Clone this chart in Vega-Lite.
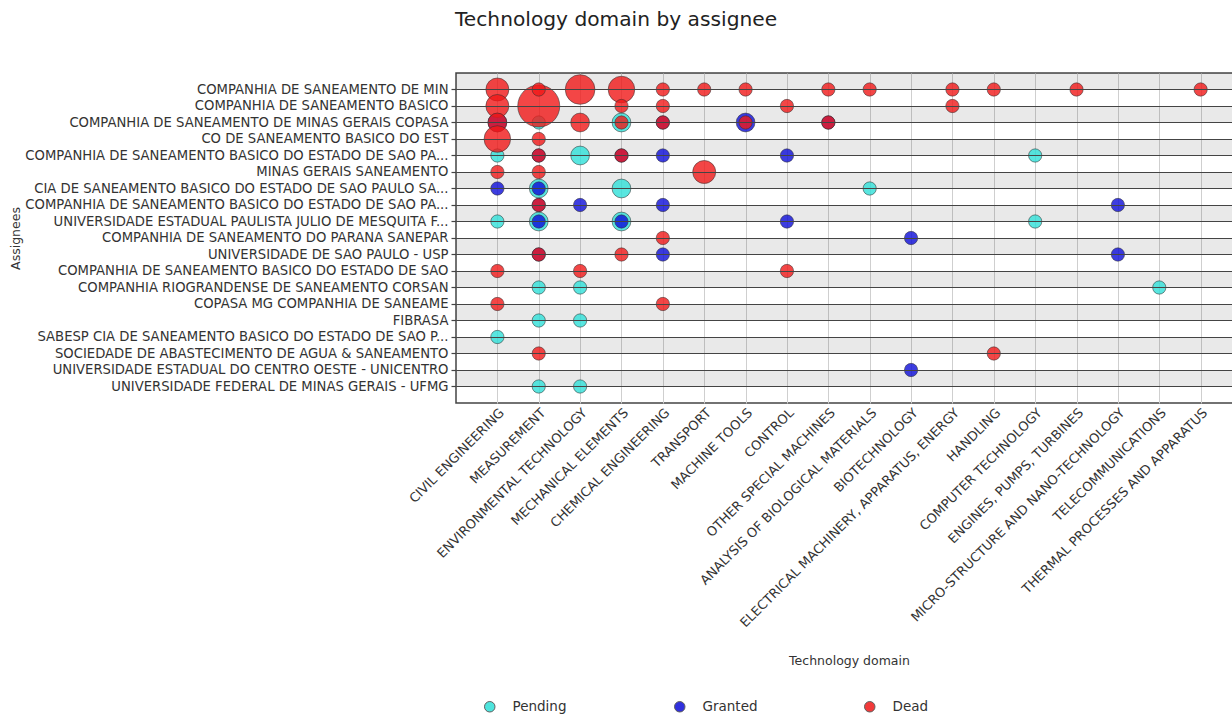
{
  "$schema": "https://vega.github.io/schema/vega-lite/v6.json",
  "autosize": {"type": "none"},
  "padding": {"left": 456, "top": 73, "right": 0, "bottom": 313},
  "width": 786,
  "height": 330,
  "background": "white",
  "config": {
    "font": "DejaVu Sans",
    "view": {"stroke": "#444", "strokeWidth": 1.5},
    "axis": {"labelFont": "DejaVu Sans", "titleFont": "DejaVu Sans", "titleFontWeight": "normal", "labelColor": "#333", "titleColor": "#333"}
  },
  "title": {
    "text": "Technology domain by assignee",
    "font": "DejaVu Sans",
    "fontSize": 20.2,
    "fontWeight": "normal",
    "color": "#222",
    "anchor": "middle",
    "frame": "group",
    "dx": -233,
    "baseline": "alphabetic",
    "offset": 26
  },
  "datasets": {
    "bands": [
      {"assignee": "COMPANHIA DE SANEAMENTO DE MIN"},
      {"assignee": "COMPANHIA DE SANEAMENTO DE MINAS GERAIS COPASA"},
      {"assignee": "COMPANHIA DE SANEAMENTO BASICO DO ESTADO DE SAO PA..."},
      {"assignee": "CIA DE SANEAMENTO BASICO DO ESTADO DE SAO PAULO SA..."},
      {"assignee": "UNIVERSIDADE ESTADUAL PAULISTA JULIO DE MESQUITA F..."},
      {"assignee": "UNIVERSIDADE DE SAO PAULO - USP"},
      {"assignee": "COMPANHIA RIOGRANDENSE DE SANEAMENTO CORSAN"},
      {"assignee": "FIBRASA"},
      {"assignee": "SOCIEDADE DE ABASTECIMENTO DE AGUA & SANEAMENTO"},
      {"assignee": "UNIVERSIDADE FEDERAL DE MINAS GERAIS - UFMG"}
    ],
    "points": [
      {"assignee": "COMPANHIA DE SANEAMENTO DE MINAS GERAIS COPASA", "domain": "MEASUREMENT", "status": "Pending", "count": 1},
      {"assignee": "COMPANHIA DE SANEAMENTO DE MINAS GERAIS COPASA", "domain": "MECHANICAL ELEMENTS", "status": "Pending", "count": 2},
      {"assignee": "COMPANHIA DE SANEAMENTO BASICO DO ESTADO DE SAO PA...", "domain": "CIVIL ENGINEERING", "status": "Pending", "count": 1},
      {"assignee": "COMPANHIA DE SANEAMENTO BASICO DO ESTADO DE SAO PA...", "domain": "ENVIRONMENTAL TECHNOLOGY", "status": "Pending", "count": 2},
      {"assignee": "COMPANHIA DE SANEAMENTO BASICO DO ESTADO DE SAO PA...", "domain": "COMPUTER TECHNOLOGY", "status": "Pending", "count": 1},
      {"assignee": "CIA DE SANEAMENTO BASICO DO ESTADO DE SAO PAULO SA...", "domain": "MEASUREMENT", "status": "Pending", "count": 2},
      {"assignee": "CIA DE SANEAMENTO BASICO DO ESTADO DE SAO PAULO SA...", "domain": "MECHANICAL ELEMENTS", "status": "Pending", "count": 2},
      {"assignee": "CIA DE SANEAMENTO BASICO DO ESTADO DE SAO PAULO SA...", "domain": "ANALYSIS OF BIOLOGICAL MATERIALS", "status": "Pending", "count": 1},
      {"assignee": "UNIVERSIDADE ESTADUAL PAULISTA JULIO DE MESQUITA F...", "domain": "CIVIL ENGINEERING", "status": "Pending", "count": 1},
      {"assignee": "UNIVERSIDADE ESTADUAL PAULISTA JULIO DE MESQUITA F...", "domain": "MEASUREMENT", "status": "Pending", "count": 2},
      {"assignee": "UNIVERSIDADE ESTADUAL PAULISTA JULIO DE MESQUITA F...", "domain": "MECHANICAL ELEMENTS", "status": "Pending", "count": 2},
      {"assignee": "UNIVERSIDADE ESTADUAL PAULISTA JULIO DE MESQUITA F...", "domain": "COMPUTER TECHNOLOGY", "status": "Pending", "count": 1},
      {"assignee": "COMPANHIA RIOGRANDENSE DE SANEAMENTO CORSAN", "domain": "MEASUREMENT", "status": "Pending", "count": 1},
      {"assignee": "COMPANHIA RIOGRANDENSE DE SANEAMENTO CORSAN", "domain": "ENVIRONMENTAL TECHNOLOGY", "status": "Pending", "count": 1},
      {"assignee": "COMPANHIA RIOGRANDENSE DE SANEAMENTO CORSAN", "domain": "TELECOMMUNICATIONS", "status": "Pending", "count": 1},
      {"assignee": "FIBRASA", "domain": "MEASUREMENT", "status": "Pending", "count": 1},
      {"assignee": "FIBRASA", "domain": "ENVIRONMENTAL TECHNOLOGY", "status": "Pending", "count": 1},
      {"assignee": "SABESP CIA DE SANEAMENTO BASICO DO ESTADO DE SAO P...", "domain": "CIVIL ENGINEERING", "status": "Pending", "count": 1},
      {"assignee": "UNIVERSIDADE FEDERAL DE MINAS GERAIS - UFMG", "domain": "MEASUREMENT", "status": "Pending", "count": 1},
      {"assignee": "UNIVERSIDADE FEDERAL DE MINAS GERAIS - UFMG", "domain": "ENVIRONMENTAL TECHNOLOGY", "status": "Pending", "count": 1},

      {"assignee": "COMPANHIA DE SANEAMENTO DE MINAS GERAIS COPASA", "domain": "CIVIL ENGINEERING", "status": "Granted", "count": 2},
      {"assignee": "COMPANHIA DE SANEAMENTO DE MINAS GERAIS COPASA", "domain": "CHEMICAL ENGINEERING", "status": "Granted", "count": 1},
      {"assignee": "COMPANHIA DE SANEAMENTO DE MINAS GERAIS COPASA", "domain": "MACHINE TOOLS", "status": "Granted", "count": 2},
      {"assignee": "COMPANHIA DE SANEAMENTO DE MINAS GERAIS COPASA", "domain": "OTHER SPECIAL MACHINES", "status": "Granted", "count": 1},
      {"assignee": "COMPANHIA DE SANEAMENTO BASICO DO ESTADO DE SAO PA...", "domain": "MEASUREMENT", "status": "Granted", "count": 1},
      {"assignee": "COMPANHIA DE SANEAMENTO BASICO DO ESTADO DE SAO PA...", "domain": "MECHANICAL ELEMENTS", "status": "Granted", "count": 1},
      {"assignee": "COMPANHIA DE SANEAMENTO BASICO DO ESTADO DE SAO PA...", "domain": "CHEMICAL ENGINEERING", "status": "Granted", "count": 1},
      {"assignee": "COMPANHIA DE SANEAMENTO BASICO DO ESTADO DE SAO PA...", "domain": "CONTROL", "status": "Granted", "count": 1},
      {"assignee": "CIA DE SANEAMENTO BASICO DO ESTADO DE SAO PAULO SA...", "domain": "CIVIL ENGINEERING", "status": "Granted", "count": 1},
      {"assignee": "CIA DE SANEAMENTO BASICO DO ESTADO DE SAO PAULO SA...", "domain": "MEASUREMENT", "status": "Granted", "count": 1},
      {"assignee": "COMPANHIA DE SANEAMENTO BASICO DO ESTADO DE SAO PA... ", "domain": "MEASUREMENT", "status": "Granted", "count": 1},
      {"assignee": "COMPANHIA DE SANEAMENTO BASICO DO ESTADO DE SAO PA... ", "domain": "ENVIRONMENTAL TECHNOLOGY", "status": "Granted", "count": 1},
      {"assignee": "COMPANHIA DE SANEAMENTO BASICO DO ESTADO DE SAO PA... ", "domain": "CHEMICAL ENGINEERING", "status": "Granted", "count": 1},
      {"assignee": "COMPANHIA DE SANEAMENTO BASICO DO ESTADO DE SAO PA... ", "domain": "MICRO-STRUCTURE AND NANO-TECHNOLOGY", "status": "Granted", "count": 1},
      {"assignee": "UNIVERSIDADE ESTADUAL PAULISTA JULIO DE MESQUITA F...", "domain": "MEASUREMENT", "status": "Granted", "count": 1},
      {"assignee": "UNIVERSIDADE ESTADUAL PAULISTA JULIO DE MESQUITA F...", "domain": "MECHANICAL ELEMENTS", "status": "Granted", "count": 1},
      {"assignee": "UNIVERSIDADE ESTADUAL PAULISTA JULIO DE MESQUITA F...", "domain": "CONTROL", "status": "Granted", "count": 1},
      {"assignee": "COMPANHIA DE SANEAMENTO DO PARANA SANEPAR", "domain": "BIOTECHNOLOGY", "status": "Granted", "count": 1},
      {"assignee": "UNIVERSIDADE DE SAO PAULO - USP", "domain": "MEASUREMENT", "status": "Granted", "count": 1},
      {"assignee": "UNIVERSIDADE DE SAO PAULO - USP", "domain": "CHEMICAL ENGINEERING", "status": "Granted", "count": 1},
      {"assignee": "UNIVERSIDADE DE SAO PAULO - USP", "domain": "MICRO-STRUCTURE AND NANO-TECHNOLOGY", "status": "Granted", "count": 1},
      {"assignee": "UNIVERSIDADE ESTADUAL DO CENTRO OESTE - UNICENTRO", "domain": "BIOTECHNOLOGY", "status": "Granted", "count": 1},

      {"assignee": "COMPANHIA DE SANEAMENTO DE MIN", "domain": "CIVIL ENGINEERING", "status": "Dead", "count": 3},
      {"assignee": "COMPANHIA DE SANEAMENTO DE MIN", "domain": "ENVIRONMENTAL TECHNOLOGY", "status": "Dead", "count": 5},
      {"assignee": "COMPANHIA DE SANEAMENTO DE MIN", "domain": "MECHANICAL ELEMENTS", "status": "Dead", "count": 4},
      {"assignee": "COMPANHIA DE SANEAMENTO DE MIN", "domain": "CHEMICAL ENGINEERING", "status": "Dead", "count": 1},
      {"assignee": "COMPANHIA DE SANEAMENTO DE MIN", "domain": "TRANSPORT", "status": "Dead", "count": 1},
      {"assignee": "COMPANHIA DE SANEAMENTO DE MIN", "domain": "MACHINE TOOLS", "status": "Dead", "count": 1},
      {"assignee": "COMPANHIA DE SANEAMENTO DE MIN", "domain": "OTHER SPECIAL MACHINES", "status": "Dead", "count": 1},
      {"assignee": "COMPANHIA DE SANEAMENTO DE MIN", "domain": "ANALYSIS OF BIOLOGICAL MATERIALS", "status": "Dead", "count": 1},
      {"assignee": "COMPANHIA DE SANEAMENTO DE MIN", "domain": "ELECTRICAL MACHINERY, APPARATUS, ENERGY", "status": "Dead", "count": 1},
      {"assignee": "COMPANHIA DE SANEAMENTO DE MIN", "domain": "HANDLING", "status": "Dead", "count": 1},
      {"assignee": "COMPANHIA DE SANEAMENTO DE MIN", "domain": "ENGINES, PUMPS, TURBINES", "status": "Dead", "count": 1},
      {"assignee": "COMPANHIA DE SANEAMENTO DE MIN", "domain": "THERMAL PROCESSES AND APPARATUS", "status": "Dead", "count": 1},
      {"assignee": "COMPANHIA DE SANEAMENTO BASICO", "domain": "CIVIL ENGINEERING", "status": "Dead", "count": 3},
      {"assignee": "COMPANHIA DE SANEAMENTO BASICO", "domain": "MEASUREMENT", "status": "Dead", "count": 10},
      {"assignee": "COMPANHIA DE SANEAMENTO BASICO", "domain": "MECHANICAL ELEMENTS", "status": "Dead", "count": 1},
      {"assignee": "COMPANHIA DE SANEAMENTO BASICO", "domain": "CHEMICAL ENGINEERING", "status": "Dead", "count": 1},
      {"assignee": "COMPANHIA DE SANEAMENTO BASICO", "domain": "CONTROL", "status": "Dead", "count": 1},
      {"assignee": "COMPANHIA DE SANEAMENTO BASICO", "domain": "ELECTRICAL MACHINERY, APPARATUS, ENERGY", "status": "Dead", "count": 1},
      {"assignee": "COMPANHIA DE SANEAMENTO DE MIN", "domain": "MEASUREMENT", "status": "Dead", "count": 1},
      {"assignee": "COMPANHIA DE SANEAMENTO DE MINAS GERAIS COPASA", "domain": "CIVIL ENGINEERING", "status": "Dead", "count": 2},
      {"assignee": "COMPANHIA DE SANEAMENTO DE MINAS GERAIS COPASA", "domain": "ENVIRONMENTAL TECHNOLOGY", "status": "Dead", "count": 2},
      {"assignee": "COMPANHIA DE SANEAMENTO DE MINAS GERAIS COPASA", "domain": "MECHANICAL ELEMENTS", "status": "Dead", "count": 1},
      {"assignee": "COMPANHIA DE SANEAMENTO DE MINAS GERAIS COPASA", "domain": "CHEMICAL ENGINEERING", "status": "Dead", "count": 1},
      {"assignee": "COMPANHIA DE SANEAMENTO DE MINAS GERAIS COPASA", "domain": "MACHINE TOOLS", "status": "Dead", "count": 1},
      {"assignee": "COMPANHIA DE SANEAMENTO DE MINAS GERAIS COPASA", "domain": "OTHER SPECIAL MACHINES", "status": "Dead", "count": 1},
      {"assignee": "CO DE SANEAMENTO BASICO DO EST", "domain": "CIVIL ENGINEERING", "status": "Dead", "count": 4},
      {"assignee": "CO DE SANEAMENTO BASICO DO EST", "domain": "MEASUREMENT", "status": "Dead", "count": 1},
      {"assignee": "COMPANHIA DE SANEAMENTO BASICO DO ESTADO DE SAO PA...", "domain": "MEASUREMENT", "status": "Dead", "count": 1},
      {"assignee": "COMPANHIA DE SANEAMENTO BASICO DO ESTADO DE SAO PA...", "domain": "MECHANICAL ELEMENTS", "status": "Dead", "count": 1},
      {"assignee": "MINAS GERAIS SANEAMENTO", "domain": "CIVIL ENGINEERING", "status": "Dead", "count": 1},
      {"assignee": "MINAS GERAIS SANEAMENTO", "domain": "MEASUREMENT", "status": "Dead", "count": 1},
      {"assignee": "MINAS GERAIS SANEAMENTO", "domain": "TRANSPORT", "status": "Dead", "count": 3},
      {"assignee": "COMPANHIA DE SANEAMENTO BASICO DO ESTADO DE SAO PA... ", "domain": "MEASUREMENT", "status": "Dead", "count": 1},
      {"assignee": "COMPANHIA DE SANEAMENTO DO PARANA SANEPAR", "domain": "CHEMICAL ENGINEERING", "status": "Dead", "count": 1},
      {"assignee": "UNIVERSIDADE DE SAO PAULO - USP", "domain": "MEASUREMENT", "status": "Dead", "count": 1},
      {"assignee": "UNIVERSIDADE DE SAO PAULO - USP", "domain": "MECHANICAL ELEMENTS", "status": "Dead", "count": 1},
      {"assignee": "COMPANHIA DE SANEAMENTO BASICO DO ESTADO DE SAO", "domain": "CIVIL ENGINEERING", "status": "Dead", "count": 1},
      {"assignee": "COMPANHIA DE SANEAMENTO BASICO DO ESTADO DE SAO", "domain": "ENVIRONMENTAL TECHNOLOGY", "status": "Dead", "count": 1},
      {"assignee": "COMPANHIA DE SANEAMENTO BASICO DO ESTADO DE SAO", "domain": "CONTROL", "status": "Dead", "count": 1},
      {"assignee": "COPASA MG COMPANHIA DE SANEAME", "domain": "CIVIL ENGINEERING", "status": "Dead", "count": 1},
      {"assignee": "COPASA MG COMPANHIA DE SANEAME", "domain": "CHEMICAL ENGINEERING", "status": "Dead", "count": 1},
      {"assignee": "SOCIEDADE DE ABASTECIMENTO DE AGUA & SANEAMENTO", "domain": "MEASUREMENT", "status": "Dead", "count": 1},
      {"assignee": "SOCIEDADE DE ABASTECIMENTO DE AGUA & SANEAMENTO", "domain": "HANDLING", "status": "Dead", "count": 1}
    ]
  },
  "encoding": {
    "y": {
      "field": "assignee",
      "type": "nominal",
      "scale": {
        "type": "band",
        "paddingInner": 0,
        "paddingOuter": 0.5,
        "domain": [
          "COMPANHIA DE SANEAMENTO DE MIN",
          "COMPANHIA DE SANEAMENTO BASICO",
          "COMPANHIA DE SANEAMENTO DE MINAS GERAIS COPASA",
          "CO DE SANEAMENTO BASICO DO EST",
          "COMPANHIA DE SANEAMENTO BASICO DO ESTADO DE SAO PA...",
          "MINAS GERAIS SANEAMENTO",
          "CIA DE SANEAMENTO BASICO DO ESTADO DE SAO PAULO SA...",
          "COMPANHIA DE SANEAMENTO BASICO DO ESTADO DE SAO PA... ",
          "UNIVERSIDADE ESTADUAL PAULISTA JULIO DE MESQUITA F...",
          "COMPANHIA DE SANEAMENTO DO PARANA SANEPAR",
          "UNIVERSIDADE DE SAO PAULO - USP",
          "COMPANHIA DE SANEAMENTO BASICO DO ESTADO DE SAO",
          "COMPANHIA RIOGRANDENSE DE SANEAMENTO CORSAN",
          "COPASA MG COMPANHIA DE SANEAME",
          "FIBRASA",
          "SABESP CIA DE SANEAMENTO BASICO DO ESTADO DE SAO P...",
          "SOCIEDADE DE ABASTECIMENTO DE AGUA & SANEAMENTO",
          "UNIVERSIDADE ESTADUAL DO CENTRO OESTE - UNICENTRO",
          "UNIVERSIDADE FEDERAL DE MINAS GERAIS - UFMG"
        ]
      },
      "axis": {
        "title": "Assignees",
        "titleFontSize": 12.5,
        "titleAngle": -90,
        "titleX": -441,
        "titleY": 165,
        "titleBaseline": "middle",
        "titleAlign": "center",
        "labelFontSize": 13.2,
        "labelPadding": 3,
        "labelLimit": 500,
        "labelExpr": "trim(datum.label)",
        "bandPosition": 0.5,
        "ticks": true,
        "tickSize": 5,
        "tickColor": "#444",
        "tickWidth": 1.2,
        "domain": false,
        "grid": true,
        "gridColor": "#444",
        "gridWidth": 1.2
      }
    }
  },
  "layer": [
    {
      "data": {"name": "bands"},
      "mark": {"type": "rect", "fill": "#000", "fillOpacity": 0.085, "yOffset": {"expr": "-bandwidth('y')/2"}},
      "encoding": {}
    },
    {
      "data": {"name": "points"},
      "mark": {"type": "circle", "fillOpacity": 0.8, "stroke": "#333", "strokeOpacity": 0.55, "strokeWidth": 1},
      "encoding": {
        "x": {
          "field": "domain",
          "type": "nominal",
          "scale": {
            "type": "point",
            "padding": 1,
            "domain": [
              "CIVIL ENGINEERING",
              "MEASUREMENT",
              "ENVIRONMENTAL TECHNOLOGY",
              "MECHANICAL ELEMENTS",
              "CHEMICAL ENGINEERING",
              "TRANSPORT",
              "MACHINE TOOLS",
              "CONTROL",
              "OTHER SPECIAL MACHINES",
              "ANALYSIS OF BIOLOGICAL MATERIALS",
              "BIOTECHNOLOGY",
              "ELECTRICAL MACHINERY, APPARATUS, ENERGY",
              "HANDLING",
              "COMPUTER TECHNOLOGY",
              "ENGINES, PUMPS, TURBINES",
              "MICRO-STRUCTURE AND NANO-TECHNOLOGY",
              "TELECOMMUNICATIONS",
              "THERMAL PROCESSES AND APPARATUS"
            ]
          },
          "axis": {
            "title": "Technology domain",
            "titleFontSize": 12.5,
            "titleY": 257,
            "titleBaseline": "middle",
            "labelAngle": -45,
            "labelFontSize": 13,
            "labelPadding": 3,
            "labelLimit": 500,
            "ticks": false,
            "domain": false,
            "grid": true,
            "gridColor": "#cfcfcf",
            "gridWidth": 1
          }
        },
        "color": {
          "field": "status",
          "type": "nominal",
          "scale": {"domain": ["Pending", "Granted", "Dead"], "range": ["#30e0d8", "#0c0cd8", "#f01818"]},
          "legend": {
            "title": null,
            "orient": "none",
            "direction": "horizontal",
            "legendX": 27,
            "legendY": 627,
            "padding": 0,
            "gridAlign": "all",
            "columnPadding": 104,
            "symbolType": "circle",
            "symbolSize": 110,
            "symbolStrokeColor": "#444",
            "symbolStrokeWidth": 1,
            "symbolOpacity": 0.85,
            "labelFont": "DejaVu Sans",
            "labelFontSize": 13.5,
            "labelColor": "#333",
            "labelOffset": 16
          }
        },
        "size": {
          "field": "count",
          "type": "quantitative",
          "scale": {"type": "linear", "domain": [0, 10], "range": [0, 1764]},
          "legend": null
        }
      }
    }
  ]
}
